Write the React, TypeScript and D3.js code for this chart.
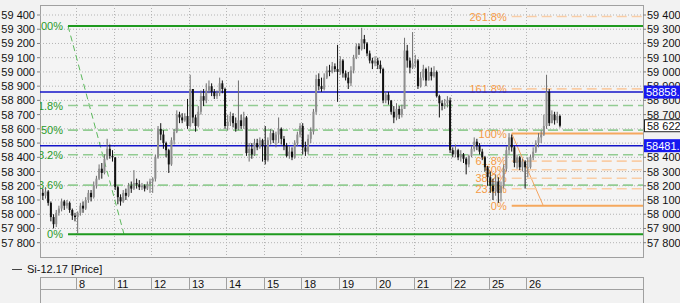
import React from "react";
import * as d3 from "d3";

// ---------- DATA ----------
const dayLabels = ["8", "11", "12", "13", "14", "15", "18", "19", "20", "21", "22", "25", "26"];

const firstOpen = 58150;
const closes = [
  // 7
  58130, 58160, 58080, 57980, 57930, 58010, 58040, 58090, 58060, 58080, 58030, 57990, 57980,
  // 8
  58010, 58060, 58040, 58100, 58150, 58120, 58200, 58250, 58320, 58290, 58390, 58460, 58410, 58400,
  // 11
  58190, 58120, 58090, 58150, 58130, 58200, 58180, 58220, 58210, 58190, 58200, 58180, 58210, 58230,
  // 12
  58250, 58400, 58600, 58560, 58500, 58450, 58350, 58520, 58580, 58700, 58680, 58660, 58690, 58620,
  // 13
  58880, 58680, 58620, 58720, 58830, 58800, 58870, 58900, 58860, 58830, 58850, 58920, 58880, 58620,
  // 14
  58650, 58690, 58640, 58600, 58660, 58620, 58680, 58430, 58460, 58420, 58500, 58470, 58520, 58480,
  // 15
  58380, 58520, 58570, 58520, 58560, 58600, 58530, 58480, 58410, 58440, 58400, 58500, 58560, 58620,
  // 18
  58470, 58440, 58530, 58580, 58720, 58950, 58900, 58880, 58960, 59010, 59000, 59040, 59020, 59000,
  // 19
  59080, 58990, 58960, 58920, 59010, 59100, 59180, 59160, 59230, 59200, 59130, 59080, 59060, 59080,
  // 20
  59050, 59020, 58800, 58840, 58800, 58720, 58680, 58740, 58700, 58740, 59150, 59080, 59030, 59060,
  // 21
  59080, 58900, 58960, 59020, 58940, 59000, 58970, 59000, 58830, 58780, 58760, 58780, 58800, 58450,
  // 22
  58420, 58450, 58400, 58420, 58390, 58350, 58410, 58460, 58510, 58480, 58440, 58400, 58330, 58260,
  // 25
  58200, 58160, 58230, 58150, 58200, 58320, 58450, 58540, 58470, 58360, 58400, 58330, 58370, 58330,
  // 26
  58330, 58400, 58440, 58500, 58540, 58560, 58620, 58860, 58640, 58700, 58660, 58690, 58622,
];
const highs = [
  58180, 58190, 58170, 58090, 58000, 58030, 58060, 58110, 58100, 58100, 58090, 58040, 58010,
  58020, 58080, 58090, 58120, 58170, 58170, 58230, 58270, 58350, 58360, 58420, 58530, 58490, 58450,
  58400, 58200, 58140, 58170, 58180, 58220, 58230, 58310, 58250, 58240, 58220, 58210, 58230, 58250,
  58260, 58420, 58620, 58640, 58590, 58510, 58460, 58540, 58600, 58730, 58720, 58710, 58710, 58810,
  58980, 58860, 58700, 58760, 58870, 58880, 58920, 58940, 58920, 58880, 58870, 58960, 58940, 58890,
  58700, 58720, 58710, 58680, 58940, 58700, 58720, 58690, 58500, 58500, 58530, 58530, 58540, 58530,
  58620, 58540, 58600, 58590, 58580, 58680, 58610, 58550, 58500, 58480, 58470, 58520, 58580, 58640,
  58640, 58510, 58560, 58610, 58740, 58980, 58990, 58960, 58990, 59040, 59050, 59070, 59060, 59190,
  59110, 59090, 59010, 59000, 59040, 59120, 59200, 59200, 59310, 59260, 59210, 59150, 59100, 59110,
  59100, 59080, 59030, 58860, 58860, 58800, 58760, 58780, 58760, 58770, 59240, 59190, 59100, 59280,
  59120, 59090, 59000, 59050, 59030, 59040, 59030, 59040, 59010, 58840, 58800, 58810, 58830, 58820,
  58470, 58490, 58460, 58450, 58430, 58400, 58420, 58480, 58540, 58530, 58500, 58460, 58410, 58340,
  58300, 58250, 58280, 58260, 58230, 58350, 58480, 58570, 58560, 58480, 58420, 58410, 58390, 58380,
  58400, 58420, 58470, 58520, 58570, 58590, 58700, 58980, 58880, 58730, 58720, 58720, 58700,
];
const lows = [
  58100, 58110, 58060, 57950, 57900, 57910, 57990, 58020, 58030, 58040, 58010, 57960, 57950,
  57865, 57990, 58010, 58030, 58080, 58090, 58110, 58180, 58240, 58250, 58280, 58380, 58390, 58370,
  58170, 58070, 58060, 58080, 58100, 58120, 58150, 58170, 58180, 58170, 58170, 58160, 58170, 58150,
  58150, 58230, 58390, 58520, 58460, 58400, 58290, 58340, 58490, 58570, 58640, 58640, 58650, 58600,
  58610, 58640, 58580, 58610, 58700, 58760, 58780, 58850, 58830, 58810, 58810, 58830, 58850, 58600,
  58590, 58620, 58610, 58580, 58590, 58600, 58600, 58410, 58370, 58390, 58410, 58450, 58460, 58370,
  58350, 58370, 58490, 58500, 58470, 58500, 58490, 58450, 58400, 58390, 58380, 58390, 58480, 58540,
  58420, 58410, 58420, 58500, 58560, 58700, 58870, 58860, 58870, 58950, 58970, 58990, 59000, 58790,
  58980, 58960, 58940, 58880, 58900, 58990, 59090, 59120, 59150, 59160, 59110, 59060, 59020, 59040,
  59020, 58990, 58780, 58780, 58770, 58700, 58640, 58660, 58670, 58680, 58740, 59030, 58990, 59020,
  59030, 58880, 58890, 58940, 58900, 58950, 58940, 58960, 58820, 58680, 58730, 58740, 58750, 58430,
  58400, 58400, 58380, 58370, 58360, 58280, 58330, 58400, 58440, 58450, 58420, 58380, 58300, 58200,
  58150, 58100, 58130, 58080, 58090, 58180, 58300, 58420, 58440, 58330, 58320, 58310, 58300, 58180,
  58260, 58320, 58380, 58430, 58470, 58500, 58550, 58600, 58620, 58640, 58630, 58640, 58610,
];

const priceTicks = d3.range(57800, 59401, 100);
const blueLevels = [58858.4, 58481.7];
const blueLabels = ["58858.", "58481."];
const lastPrice = 58622;

// Fibonacci tools (anchor bar position, price)
const greenFib = { i1: 9.9, p1: 59323, i2: 30.8, p2: 57859 };
const greenLevels = [0, 0.236, 0.382, 0.5, 0.618, 1];
const orangeFib = { i1: 175.5, p1: 58567, i2: 187.3, p2: 58059 };
const orangeLevels = [0, 0.236, 0.382, 0.5, 0.618, 1, 1.618, 2.618];

// ---------- LAYOUT ----------
const W = 680, H = 303;
const L = 40, R = 643, T = 5, B = 257;
const FONT = "'Liberation Sans', Arial, sans-serif";

const x = d3.scaleLinear().domain([0, 224.5]).range([41.5, 643]);
const y = d3.scaleLinear().domain([57800, 59400]).range([242.7, 15]);
const step = x(1) - x(0);
const daySlot = (k: number) => 13 + 14 * k;

const fmt = (v: number) => `${Math.floor(v / 1000)} ${String(Math.round(v % 1000)).padStart(3, "0")}`;
const pct = (l: number) => `${+(l * 100).toFixed(1)}%`;

export default function App() {
  const opens = closes.map((c, i) => (i === 0 ? firstOpen : closes[i - 1]));
  const boxYs = [...blueLevels, lastPrice].map((v) => y(v));
  const rightTicks = priceTicks.filter((p) => boxYs.every((by) => Math.abs(y(p) - by) > 5));

  const fibLines = (f: typeof greenFib, levels: number[], kind: "green" | "orange") => {
    const xs = x(Math.min(f.i1, f.i2));
    const lo = f.p2, range = f.p1 - f.p2;
    return (
      <g>
        <line
          x1={x(f.i1)} y1={y(f.p1)} x2={x(f.i2)} y2={y(f.p2)}
          stroke={kind === "green" ? "#5cb85c" : "#f4a460"}
          strokeWidth={1}
          strokeDasharray={kind === "green" ? "6,4" : undefined}
        />
        {levels.map((l) => {
          const p = lo + range * l;
          const yy = y(p);
          const solid = l === 0 || l === 1;
          const stroke = kind === "green"
            ? (solid ? "#1f9a1f" : "#92cc92")
            : (solid ? "#f5a85e" : "#f9cda6");
          return (
            <g key={l}>
              <line x1={xs} x2={R} y1={yy} y2={yy} stroke={stroke} strokeWidth={solid ? 2 : 1.6}
                strokeDasharray={solid ? undefined : "10,5"} />
              <text x={xs - 5} y={yy} dy="0.36em" textAnchor="end" fontSize={11} fontFamily={FONT}
                fill={kind === "green" ? "#2a9a2a" : "#f59a45"}>{pct(l)}</text>
            </g>
          );
        })}
      </g>
    );
  };

  return (
    <svg width={W} height={H} style={{ position: "absolute", left: 0, top: 0, background: "#f2f2f2" }}
      fontFamily={FONT}>
      <defs>
        <clipPath id="plot"><rect x={L} y={T} width={R - L} height={B - T} /></clipPath>
      </defs>
      <rect x={0} y={0} width={W} height={H} fill="#f2f2f2" />
      <rect x={L + 0.5} y={T + 0.5} width={R - L} height={B - T} fill="#f4f4f4" stroke="#a0a0a0" />

      <g clipPath="url(#plot)">
        {priceTicks.map((p) => (
          <line key={p} x1={L} x2={R} y1={y(p)} y2={y(p)} stroke="#b4b4b4" strokeDasharray="1,2" />
        ))}
        {dayLabels.map((d, k) => (
          <line key={d} x1={Math.round(x(daySlot(k))) + 0.5} x2={Math.round(x(daySlot(k))) + 0.5}
            y1={T} y2={B} stroke="#b4b4b4" strokeDasharray="1,2" />
        ))}

        {fibLines(greenFib, greenLevels, "green")}
        {fibLines(orangeFib, orangeLevels, "orange")}

        {blueLevels.map((b) => (
          <line key={b} x1={L} x2={R} y1={y(b)} y2={y(b)} stroke="#1414c8" strokeWidth={1.5} />
        ))}

        {closes.map((c, i) => {
          const o = opens[i];
          const up = c >= o;
          const cx = x(i) + step / 2;
          const hi = Math.max(highs[i], o, c), lo = Math.min(lows[i], o, c);
          const top = y(Math.max(o, c)), bot = y(Math.min(o, c));
          return (
            <g key={i}>
              <line x1={cx} x2={cx} y1={y(hi)} y2={y(lo)} stroke={up ? "#6e6e6e" : "#111"} strokeWidth={1} />
              <rect x={cx - 1} y={top} width={2} height={Math.max(1, bot - top)} fill={up ? "#8e8e8e" : "#111"} />
            </g>
          );
        })}
      </g>

      {/* left axis */}
      {priceTicks.map((p) => (
        <g key={"l" + p}>
          <line x1={37} x2={L} y1={y(p)} y2={y(p)} stroke="#808080" />
          <text x={35} y={y(p)} dy="0.36em" textAnchor="end" fontSize={11} fill="#111">{fmt(p)}</text>
        </g>
      ))}
      {/* right axis */}
      {priceTicks.map((p) => (
        <line key={"rt" + p} x1={R} x2={R + 3} y1={y(p)} y2={y(p)} stroke="#808080" />
      ))}
      {rightTicks.map((p) => (
        <text key={"r" + p} x={647} y={y(p)} dy="0.36em" fontSize={11} fill="#111">{fmt(p)}</text>
      ))}
      {blueLevels.map((b, i) => (
        <g key={"bb" + b}>
          <rect x={644} y={y(b) - 6.5} width={40} height={13} fill="#1818f0" />
          <text x={646} y={y(b)} dy="0.36em" fontSize={11} fill="#fff">{blueLabels[i]}</text>
        </g>
      ))}
      <rect x={644.5} y={y(lastPrice) - 6} width={40} height={12} fill="#fff" stroke="#222" />
      <text x={647} y={y(lastPrice)} dy="0.36em" fontSize={11} fill="#111">{fmt(lastPrice)}</text>

      {/* legend */}
      <line x1={12} x2={22} y1={269.5} y2={269.5} stroke="#444" />
      <text x={27} y={273} fontSize={11} fill="#111">Si-12.17 [Price]</text>

      {/* time axis */}
      <rect x={L + 0.5} y={277.5} width={R - L} height={12} fill="none" stroke="#a0a0a0" />
      <rect x={L + 0.5} y={289.5} width={R - L} height={20} fill="none" stroke="#a0a0a0" />
      {dayLabels.map((d, k) => {
        const xx = Math.round(x(daySlot(k))) + 0.5;
        return (
          <g key={"d" + d}>
            <line x1={xx} x2={xx} y1={277.5} y2={289.5} stroke="#a0a0a0" />
            <text x={xx + 2.5} y={288} fontSize={11} fill="#111">{d}</text>
          </g>
        );
      })}
    </svg>
  );
}
